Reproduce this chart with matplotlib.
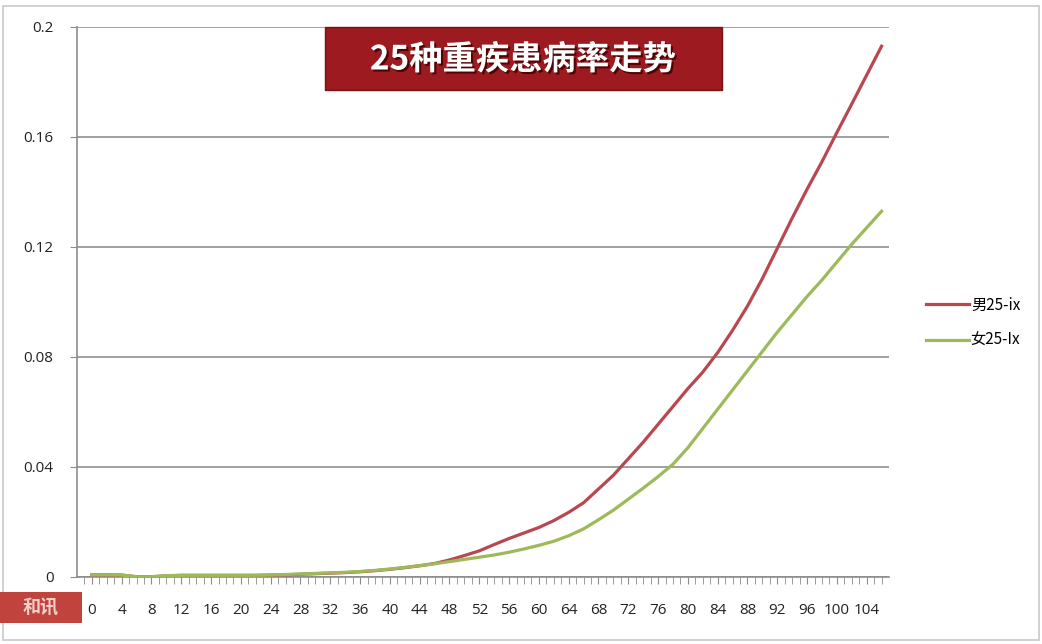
import numpy as np
import matplotlib
matplotlib.use("Agg")
import matplotlib.pyplot as plt
from matplotlib.patches import Rectangle
import matplotlib.patheffects as pe

plt.rcParams['font.family'] = ['Noto Sans CJK SC', 'DejaVu Sans']

# ages (every 2 years) and incidence of 25 major diseases
ages = list(range(0, 107, 2))
male = [0.0008, 0.0008, 0.0007, 0.0001, 0.0001, 0.0004, 0.0006, 0.0006, 0.0006, 0.0006,
        0.0006, 0.0006, 0.0007, 0.0008, 0.0010, 0.0012, 0.0014, 0.0016, 0.0019, 0.0023,
        0.0028, 0.0034, 0.0041, 0.0049, 0.0062, 0.0078, 0.0095, 0.0118, 0.0140, 0.0160,
        0.0180, 0.0205, 0.0235, 0.0270, 0.0320, 0.0370, 0.0430, 0.0490, 0.0555, 0.0620,
        0.0685, 0.0745, 0.0816, 0.0897, 0.0985, 0.1085, 0.1195, 0.1305, 0.1410, 0.1510,
        0.1616, 0.1720, 0.1825, 0.1930]
female = [0.0008, 0.0008, 0.0007, 0.0001, 0.0001, 0.0005, 0.0006, 0.0006, 0.0006, 0.0006,
          0.0006, 0.0006, 0.0007, 0.0009, 0.0011, 0.0013, 0.0015, 0.0017, 0.0020, 0.0024,
          0.0029, 0.0035, 0.0041, 0.0048, 0.0056, 0.0064, 0.0072, 0.0080, 0.0090, 0.0102,
          0.0115, 0.0130, 0.0150, 0.0175, 0.0208, 0.0243, 0.0283, 0.0323, 0.0365, 0.0410,
          0.0470, 0.0540, 0.0610, 0.0680, 0.0750, 0.0820, 0.0890, 0.0955, 0.1020, 0.1080,
          0.1145, 0.1210, 0.1270, 0.1330]
labels = ['男25-ix', '女25-Ix']
title = '25种重疾患病率走势'

fig = plt.figure(figsize=(10.42, 6.44), dpi=100)
ax = fig.add_axes([77/1042, 67/644, 812/1042, 550/644])

ax.plot(ages, male, color='#B9474F', lw=2.3, label=labels[0], zorder=3)
ax.plot(ages, female, color='#9DB95A', lw=2.3, label=labels[1], zorder=3)

ax.set_xlim(-2, 107)
ax.set_ylim(0, 0.2)
yt = [0, 0.04, 0.08, 0.12, 0.16, 0.2]
ax.set_yticks(yt)
ax.set_yticklabels(['0', '0.04', '0.08', '0.12', '0.16', '0.2'])
ax.set_xticks(range(0, 105, 4))
ax.set_xticklabels([str(a) for a in range(0, 105, 4)])
ax.set_xticks(range(-1, 107), minor=True)
ax.grid(axis='y', color='#868686', lw=1.1)
ax.set_axisbelow(True)
for s in ['top', 'right']:
    ax.spines[s].set_visible(False)
for s in ['left', 'bottom']:
    ax.spines[s].set_color('#8c8c8c')
    ax.spines[s].set_linewidth(1.2)
ax.tick_params(axis='y', length=5, color='#8c8c8c', pad=12, labelsize=11, labelcolor='#222222')
ax.tick_params(axis='x', which='both', length=5, color='#8c8c8c', pad=14, labelsize=11,
               labelcolor='#222222')
for t in ax.get_xticklabels() + ax.get_yticklabels():
    t.set_family(['Open Sans', 'DejaVu Sans'])

ax.legend(loc='center left', bbox_to_anchor=(912/1042, 1 - 323/644), bbox_transform=fig.transFigure,
          frameon=False, fontsize=11, handlelength=2.8, labelspacing=1.2, handletextpad=0.15)

# title box
fig.patches.append(Rectangle((325/1042, 1 - 90/644), 397/1042, 63/644, transform=fig.transFigure,
                             facecolor='#9C1A20', edgecolor='#7a1015', lw=1, zorder=5))
fig.text(523/1042, 1 - 60/644, title, ha='center', va='center', color='white', fontsize=24,
         fontweight='bold', zorder=6,
         path_effects=[pe.withSimplePatchShadow(offset=(1.5, -1.5), shadow_rgbFace='#3a0000', alpha=0.8)])

# outer frame
fig.patches.append(Rectangle((3/1042, 4/644), 1036/1042, 634/644, transform=fig.transFigure,
                             facecolor='none', edgecolor='#c8c8c8', lw=1.2, zorder=1))

# source logo box
fig.patches.append(Rectangle((0, 1 - 623/644), 82/1042, 31/644, transform=fig.transFigure,
                             facecolor='#C0433D', edgecolor='none', zorder=7))
fig.text(41/1042, 1 - 607/644, '和讯', ha='center', va='center', color='#f4d0c8', fontsize=13,
         fontweight='bold', zorder=8)

fig.savefig('out.png', dpi=100)
